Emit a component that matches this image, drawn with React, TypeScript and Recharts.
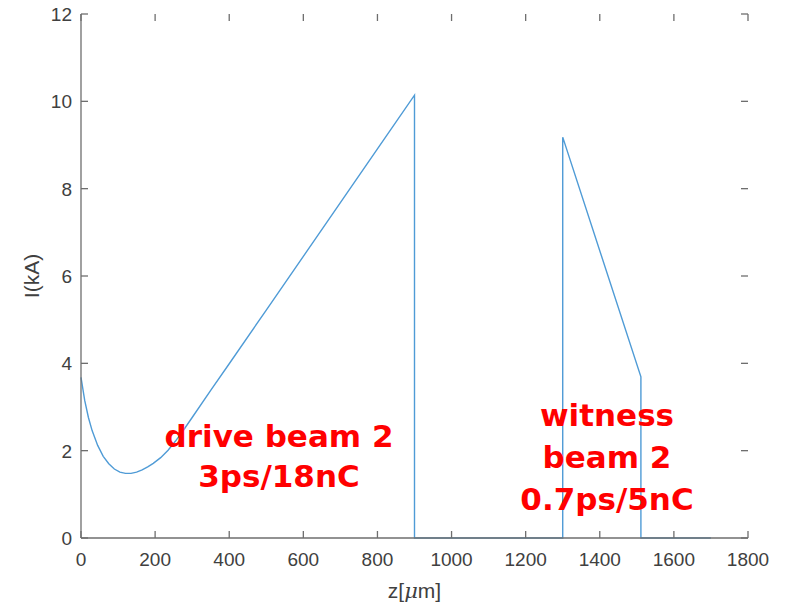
import React from 'react';
import { LineChart, Line, XAxis, YAxis } from 'recharts';

// beam current profile
const Z_UM = [
  0, 10, 20, 30, 45, 60, 75, 90, 105, 120, 135, 150, 165, 180, 195, 215, 235, 255, 275,
  300, 350, 400, 500, 600, 700, 800, 900, 900, 1300, 1300, 1511, 1511, 1700,
];
const CURRENT_KA = [
  3.68, 3.15, 2.76, 2.46, 2.12, 1.87, 1.7, 1.58, 1.51, 1.48, 1.48, 1.51, 1.56, 1.63, 1.71,
  1.84, 2.01, 2.22, 2.45, 2.76, 3.38, 3.99, 5.22, 6.45, 7.68, 8.91, 10.14, 0, 0, 9.18, 3.69,
  0, 0,
];
const X_TICKS = [0, 200, 400, 600, 800, 1000, 1200, 1400, 1600, 1800];
const Y_TICKS = [0, 2, 4, 6, 8, 10, 12];

const DRIVE_LABEL = ['drive beam 2', '3ps/18nC'];
const WITNESS_LABEL = ['witness', 'beam 2', '0.7ps/5nC'];

const W = 786;
const H = 603;
const TOP = 14;
const BOTTOM = 538;
const LEFT = 81;
const RIGHT = 748;
const TICK_LEN = 7;
const AXIS_COLOR = '#6e6e6e';
const TEXT_COLOR = '#404040';
const FONT = '"Liberation Sans", Arial, sans-serif';

const data = Z_UM.map((z, i) => ({ z, current: CURRENT_KA[i] }));

// label below the axis, inward ticks on bottom and top frame edges
const XTick = (props: any) => {
  const { x, payload } = props;
  return (
    <g>
      <line x1={x} x2={x} y1={BOTTOM} y2={BOTTOM - TICK_LEN} stroke={AXIS_COLOR} strokeWidth={1.3} />
      <line x1={x} x2={x} y1={TOP} y2={TOP + TICK_LEN} stroke={AXIS_COLOR} strokeWidth={1.3} />
      <text x={x} y={BOTTOM + 28} textAnchor="middle" fontSize={19} fontFamily={FONT} fill={TEXT_COLOR}>
        {payload.value}
      </text>
    </g>
  );
};

// label left of the axis, inward ticks on left and right frame edges
const YTick = (props: any) => {
  const { y, payload } = props;
  return (
    <g>
      <line x1={LEFT} x2={LEFT + TICK_LEN} y1={y} y2={y} stroke={AXIS_COLOR} strokeWidth={1.3} />
      <line x1={RIGHT} x2={RIGHT - TICK_LEN} y1={y} y2={y} stroke={AXIS_COLOR} strokeWidth={1.3} />
      <text x={LEFT - 9} y={y + 7} textAnchor="end" fontSize={19} fontFamily={FONT} fill={TEXT_COLOR}>
        {payload.value}
      </text>
    </g>
  );
};

const Annotation = ({ lines, cx, y0, step }: { lines: string[]; cx: number; y0: number; step: number }) => (
  <text
    textAnchor="middle"
    fill="#ff0000"
    fontWeight="bold"
    fontSize={31}
    fontFamily='"DejaVu Sans", Verdana, sans-serif'
  >
    {lines.map((l, i) => (
      <tspan key={l} x={cx} y={y0 + i * step}>
        {l}
      </tspan>
    ))}
  </text>
);

export default function App() {
  return (
    <div style={{ position: 'absolute', left: 0, top: 0, width: W, height: H, background: '#fff' }}>
      <LineChart
        width={W}
        height={H}
        data={data}
        margin={{ top: TOP, right: W - RIGHT, bottom: 0, left: 0 }}
      >
        <XAxis
          dataKey="z"
          type="number"
          domain={[0, 1800]}
          ticks={X_TICKS}
          height={H - BOTTOM}
          tickLine={false}
          tick={<XTick />}
          axisLine={{ stroke: AXIS_COLOR, strokeWidth: 1.3 }}
          interval={0}
        />
        <XAxis
          xAxisId="top"
          dataKey="z"
          type="number"
          orientation="top"
          domain={[0, 1800]}
          height={0}
          tick={false}
          tickLine={false}
          axisLine={{ stroke: AXIS_COLOR, strokeWidth: 1.3 }}
        />
        <YAxis
          type="number"
          domain={[0, 12]}
          ticks={Y_TICKS}
          width={LEFT}
          tickLine={false}
          tick={<YTick />}
          axisLine={{ stroke: AXIS_COLOR, strokeWidth: 1.3 }}
          interval={0}
        />
        <YAxis
          yAxisId="right"
          orientation="right"
          domain={[0, 12]}
          width={0}
          tick={false}
          tickLine={false}
          axisLine={{ stroke: AXIS_COLOR, strokeWidth: 1.3 }}
        />
        <Line
          type="linear"
          dataKey="current"
          stroke="#4f9bd6"
          strokeWidth={1.4}
          dot={false}
          isAnimationActive={false}
        />
      </LineChart>
      <svg
        width={W}
        height={H}
        style={{ position: 'absolute', left: 0, top: 0, pointerEvents: 'none' }}
      >
        <text
          transform={`translate(39, ${(TOP + BOTTOM) / 2}) rotate(-90)`}
          textAnchor="middle"
          fontSize={21}
          fontFamily={FONT}
          fill={TEXT_COLOR}
        >
          I(kA)
        </text>
        <text
          x={(LEFT + RIGHT) / 2}
          y={598}
          textAnchor="middle"
          fontSize={21}
          fontFamily={FONT}
          fill={TEXT_COLOR}
        >
          z[<tspan fontStyle="italic" fontFamily='"DejaVu Serif", serif'>μ</tspan>m]
        </text>
        <Annotation lines={DRIVE_LABEL} cx={279} y0={447} step={40} />
        <Annotation lines={WITNESS_LABEL} cx={607} y0={426} step={42} />
      </svg>
    </div>
  );
}
